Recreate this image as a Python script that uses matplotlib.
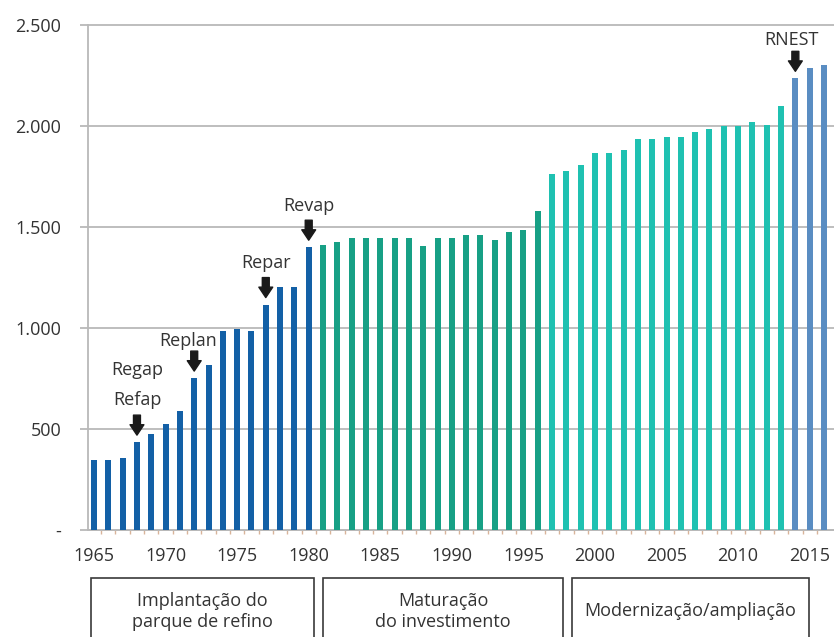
import matplotlib
matplotlib.use("Agg")
import matplotlib.pyplot as plt
from matplotlib.patches import Rectangle

plt.rcParams['font.family'] = ['Open Sans', 'DejaVu Sans']

# Refining capacity (thousand barrels/day), 1965-2016
years = list(range(1965, 2017))
capacity = [347, 347, 356, 435, 476, 526, 590, 752, 818, 984, 995, 984, 1116, 1202, 1202, 1400,
            1409, 1427, 1447, 1447, 1447, 1447, 1447, 1405, 1447, 1447, 1458, 1458, 1437, 1475, 1487, 1577,
            1761, 1777, 1807, 1867, 1867, 1880, 1938, 1938, 1948, 1948, 1968, 1987, 2000, 2000, 2019, 2005, 2097,
            2236, 2287, 2302]

# Phases: first year of each colour band
phase_starts = [1965, 1981, 1997, 2014]
phase_colors = ['#1360a6', '#17a085', '#1fc1b1', '#5a8dc2']

# Refineries entering operation
refinery_names = ['Refap', 'Regap', 'Replan', 'Repar', 'Revap', 'RNEST']
refinery_years = [1968, 1968, 1972, 1977, 1980, 2014]

# Period boxes below the axis
period_labels = ['Implantação do\nparque de refino', 'Maturação\ndo investimento', 'Modernização/ampliação']

yticks = [0, 500, 1000, 1500, 2000, 2500]
ytick_labels = ['-', '500', '1.000', '1.500', '2.000', '2.500']
xticks = list(range(1965, 2016, 5))

W, H = 834, 637
fig = plt.figure(figsize=(W / 100, H / 100), dpi=100)
ax_left, ax_bottom, ax_top = 88.3, 530, 25
ax = fig.add_axes([ax_left / W, 1 - ax_bottom / H, 1 - ax_left / W, (ax_bottom - ax_top) / H])


def color_for(yr):
    c = phase_colors[0]
    for s, col in zip(phase_starts, phase_colors):
        if yr >= s:
            c = col
    return c


bar_colors = [color_for(y) for y in years]
ax.bar(years, capacity, width=0.42, color=bar_colors, zorder=3)

ax.set_xlim(1964.6, 2016.7)
ax.set_ylim(0, 2500)

grid_col = '#b9b9b9'
ax.set_yticks(yticks)
ax.set_yticklabels(ytick_labels)
ax.set_xticks(xticks)
ax.set_xticklabels([str(x) for x in xticks])
ax.set_xticks([y + 0.5 for y in years[:-1]], minor=True)
ax.tick_params(axis='y', length=6, width=1.3, color=grid_col, pad=13.5, labelsize=13, labelcolor='#333333')
ax.tick_params(axis='x', which='major', length=0, pad=12.2, labelsize=13, labelcolor='#333333')
ax.tick_params(axis='x', which='minor', length=3, width=1, color='#d8b49a')
ax.yaxis.grid(True, color=grid_col, lw=1.3, zorder=0)
for gl in ax.get_ygridlines():
    gl.set_clip_on(False)
for side in ['top', 'right']:
    ax.spines[side].set_visible(False)
for side in ['left', 'bottom']:
    ax.spines[side].set_color(grid_col)
    ax.spines[side].set_linewidth(1.3)

# Arrows and refinery names above the bars
label_offsets = {'Refap': (0, 42), 'Regap': (0, 72), 'Replan': (-6, 37),
                 'Repar': (0, 42), 'Revap': (0, 41), 'RNEST': (-4, 38)}
val_by_year = dict(zip(years, capacity))
arrowed = []
for name, yr in zip(refinery_names, refinery_years):
    top = val_by_year[yr]
    if yr not in arrowed:
        arrowed.append(yr)
        ax.annotate('', xy=(yr, top), xycoords='data',
                    xytext=(0, 27 * 0.72), textcoords='offset points',
                    arrowprops=dict(arrowstyle='simple,head_length=0.75,head_width=1.0,tail_width=0.5',
                                    mutation_scale=10, color='#1a1a1a', shrinkA=0, shrinkB=7 * 0.72),
                    zorder=5)
    dx, dy = label_offsets[name]
    ax.annotate(name, xy=(yr, top), xycoords='data',
                xytext=(dx * 0.72, dy * 0.72), textcoords='offset points',
                ha='center', va='center', fontsize=13, color='#333333', zorder=5)

# Period boxes
box_x = [(91, 314), (323, 563), (572, 809)]
box_top = 578
for (x0, x1), lab in zip(box_x, period_labels):
    rect = Rectangle((x0 / W, -20 / H), (x1 - x0) / W, (H + 20 - box_top) / H,
                     transform=fig.transFigure, fill=False, edgecolor='#3a3a3a', lw=1.2, clip_on=False)
    fig.add_artist(rect)
    cy = 611.5
    fig.text((x0 + x1) / 2 / W, 1 - cy / H, lab, ha='center', va='center', fontsize=13,
             color='#333333', linespacing=1.15)

fig.savefig('out.png', dpi=100)
